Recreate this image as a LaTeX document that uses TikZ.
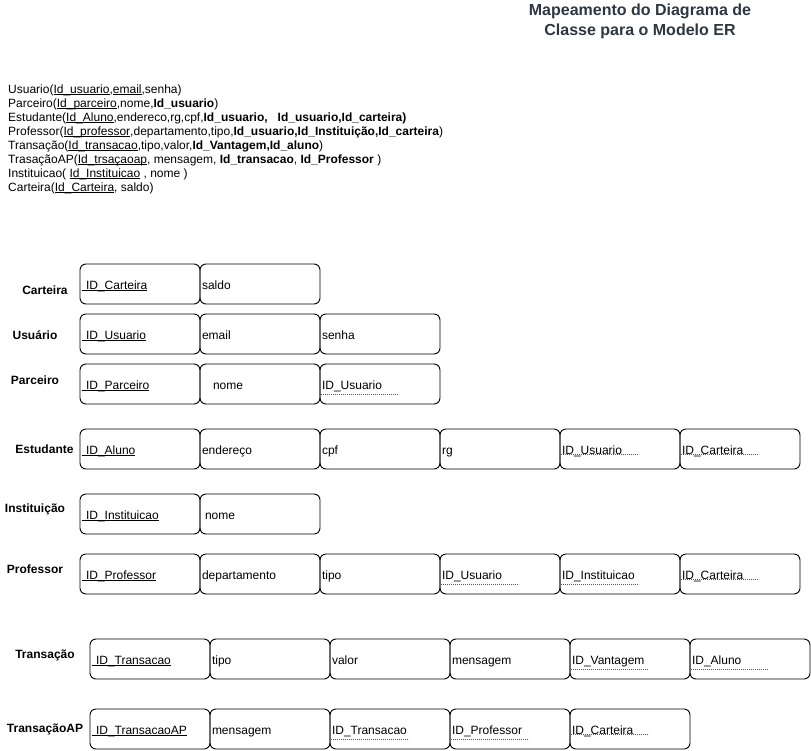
\documentclass[tikz,border=0pt]{standalone}
\usepackage{fontspec}
\setmainfont{Liberation Sans}
\usetikzlibrary{positioning}
\definecolor{titleColor}{RGB}{45,55,65}
\definecolor{dotColor}{gray}{0.35}
\newcommand\pkey[1]{\setbox0\hbox{\ #1}\rlap{\rule[-2.1pt]{\wd0}{1pt}}\box0\relax}
\newcommand\undl[1]{\setbox0\hbox{#1}\rlap{\rule[-2.1pt]{\wd0}{0.8pt}}\box0\relax}
\begin{document}
\begin{tikzpicture}[x=1pt,y=-1pt,
  every node/.style={font=\fontsize{12}{14}\selectfont},
  attr/.style={draw, line width=0.9pt, rounded corners=6pt, anchor=north west,
    minimum width=120pt, minimum height=40pt, inner sep=2pt, outer sep=0pt,
    text width=116pt, align=left, text height=10.5pt, text depth=0.5pt},
  rowlabel/.style={font=\fontsize{12}{14}\selectfont\bfseries, inner sep=0pt},
  schema/.style={anchor=base west, inner sep=0pt},
  fkline/.style={draw=dotColor, line width=0.8pt, dash pattern=on 0.9pt off 1.1pt}]
\path[use as bounding box] (0,0) rectangle (811,750);

% title
\node[font=\fontsize{16}{20}\selectfont\bfseries, text=titleColor, align=center] (title) at (640,21)
  {Mapeamento do Diagrama de\\Classe para o Modelo ER};

% relational schema
\node[schema] (m1) at (8, 93) {Usuario(\undl{Id\_usuario},\undl{email},senha)};
\node[schema] (m2) at (8,107) {Parceiro(\undl{Id\_parceiro},nome,\textbf{Id\_usuario})};
\node[schema] (m3) at (8,121) {Estudante(\undl{Id\_Aluno},endereco,rg,cpf,\textbf{Id\_usuario,\ \ \ Id\_usuario,Id\_carteira)}};
\node[schema] (m4) at (8,135) {Professor(\undl{Id\_professor},departamento,tipo,\textbf{Id\_usuario,Id\_Instituição,Id\_carteira})};
\node[schema] (m5) at (8,149) {Transação(\undl{Id\_transacao},tipo,valor,\textbf{Id\_Vantagem,Id\_aluno})};
\node[schema] (m6) at (8,163) {TrasaçãoAP(\undl{Id\_trsaçaoap}, mensagem, \textbf{Id\_transacao}, \textbf{Id\_Professor} )};
\node[schema] (m7) at (8,177) {Instituicao( \undl{Id\_Instituicao} , nome )};
\node[schema] (m8) at (8,191) {Carteira(\undl{Id\_Carteira}, saldo)};

% Carteira
\node[rowlabel] (lCarteira) at (45,290) {Carteira};
\node[attr] (c1) at (80,264) {\pkey{ID\_Carteira}};
\node[attr, right=0pt of c1] (c2) {saldo};

% Usuario
\node[rowlabel] (lUsuario) at (35,335) {Usuário};
\node[attr] (u1) at (80,314) {\pkey{ID\_Usuario}};
\node[attr, right=0pt of u1] (u2) {email};
\node[attr, right=0pt of u2] (u3) {senha};

% Parceiro
\node[rowlabel] (lParceiro) at (35,380) {Parceiro};
\node[attr] (p1) at (80,364) {\pkey{ID\_Parceiro}};
\node[attr, right=0pt of p1] (p2) {\hspace*{11pt}nome};
\node[attr, right=0pt of p2] (p3) {ID\_Usuario};
\draw[fkline] ([xshift=1pt,yshift=-10pt]p3.west) -- ++(78,0);

% Estudante
\node[rowlabel] (lEstudante) at (44.5,449) {Estudante};
\node[attr] (e1) at (80,429) {\pkey{ID\_Aluno}};
\node[attr, right=0pt of e1] (e2) {endereço};
\node[attr, right=0pt of e2] (e3) {cpf};
\node[attr, right=0pt of e3] (e4) {rg};
\node[attr, right=0pt of e4] (e5) {ID\_Usuario};
\node[attr, right=0pt of e5] (e6) {ID\_Carteira};
\draw[fkline] ([xshift=1pt,yshift=-5.5pt]e5.west) -- ++(78,0);
\draw[fkline] ([xshift=1pt,yshift=-5.5pt]e6.west) -- ++(78,0);

% Instituicao
\node[rowlabel] (lInstituicao) at (35,509) {Instituição};
\node[attr] (i1) at (80,494) {\pkey{ID\_Instituicao}};
\node[attr, right=0pt of i1] (i2) {\hspace*{3pt}nome};

% Professor
\node[rowlabel] (lProfessor) at (35,569) {Professor};
\node[attr] (f1) at (80,554) {\pkey{ID\_Professor}};
\node[attr, right=0pt of f1] (f2) {departamento};
\node[attr, right=0pt of f2] (f3) {tipo};
\node[attr, right=0pt of f3] (f4) {ID\_Usuario};
\node[attr, right=0pt of f4] (f5) {ID\_Instituicao};
\node[attr, right=0pt of f5] (f6) {ID\_Carteira};
\draw[fkline] ([xshift=1pt,yshift=-10pt]f4.west) -- ++(78,0);
\draw[fkline] ([xshift=1pt,yshift=-10pt]f5.west) -- ++(78,0);
\draw[fkline] ([xshift=1pt,yshift=-5.5pt]f6.west) -- ++(78,0);

% Transacao
\node[rowlabel] (lTransacao) at (45,655) {Transação};
\node[attr] (t1) at (90,639) {\pkey{ID\_Transacao}};
\node[attr, right=0pt of t1] (t2) {tipo};
\node[attr, right=0pt of t2] (t3) {valor};
\node[attr, right=0pt of t3] (t4) {mensagem};
\node[attr, right=0pt of t4] (t5) {ID\_Vantagem};
\node[attr, right=0pt of t5] (t6) {ID\_Aluno};
\draw[fkline] ([xshift=1pt,yshift=-10pt]t5.west) -- ++(78,0);
\draw[fkline] ([xshift=1pt,yshift=-10pt]t6.west) -- ++(78,0);

% TransacaoAP
\node[rowlabel] (lTransacaoAP) at (45,729) {TransaçãoAP};
\node[attr] (a1) at (90,709) {\pkey{ID\_TransacaoAP}};
\node[attr, right=0pt of a1] (a2) {mensagem};
\node[attr, right=0pt of a2] (a3) {ID\_Transacao};
\node[attr, right=0pt of a3] (a4) {ID\_Professor};
\node[attr, right=0pt of a4] (a5) {ID\_Carteira};
\draw[fkline] ([xshift=1pt,yshift=-10pt]a3.west) -- ++(78,0);
\draw[fkline] ([xshift=1pt,yshift=-10pt]a4.west) -- ++(78,0);
\draw[fkline] ([xshift=1pt,yshift=-5.5pt]a5.west) -- ++(78,0);
\end{tikzpicture}
\end{document}
